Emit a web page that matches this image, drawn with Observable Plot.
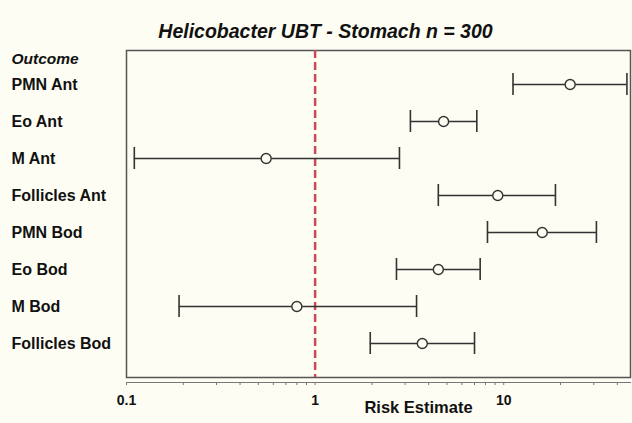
<!DOCTYPE html>
<html>
<head>
<meta charset="utf-8">
<script src="https://cdn.jsdelivr.net/npm/d3@7"></script>
<script src="https://cdn.jsdelivr.net/npm/@observablehq/plot@0.6"></script>
<style>
  html, body { margin: 0; padding: 0; background: #fdfdf3; }
  #chart svg { display: block; }
</style>
</head>
<body>
<div id="chart"></div>
<script>
const titleText = "Helicobacter UBT - Stomach n = 300";
const yTitle = "Outcome";
const xTitle = "Risk Estimate";
const outcomes = ["PMN Ant", "Eo Ant", "M Ant", "Follicles Ant", "PMN Bod", "Eo Bod", "M Bod", "Follicles Bod"];
const estimates = [22.5, 4.8, 0.55, 9.3, 16.0, 4.5, 0.8, 3.7];
const lower = [11.2, 3.2, 0.11, 4.5, 8.2, 2.7, 0.19, 1.96];
const upper = [45, 7.2, 2.8, 18.8, 31, 7.5, 3.45, 7.0];
const tickValues = [0.1, 0.2, 0.3, 0.4, 0.5, 0.6, 0.7, 0.8, 0.9, 1, 2, 3, 4, 5, 6, 7, 8, 9, 10, 20, 30, 40];
const tickLabels = [0.1, 1, 10];
const referenceValue = [1];

const rows = outcomes.map((o, i) => ({outcome: o, est: estimates[i], lo: lower[i], hi: upper[i]}));
const bg = "#fdfdf3";
const font = "Liberation Sans, Arial, Helvetica, sans-serif";

const chart = Plot.plot({
  width: 632,
  height: 423,
  marginLeft: 126,
  marginRight: 2,
  marginTop: 50,
  marginBottom: 46,
  style: {background: bg, fontFamily: font, color: "#111"},
  x: {type: "log", domain: [0.1, 47]},
  y: {type: "band", domain: outcomes, paddingInner: 0.4, paddingOuter: 0.54, axis: null},
  marks: [
    Plot.frame({stroke: "#555", strokeWidth: 1.5}),
    Plot.ruleX(referenceValue, {stroke: "#c64c58", strokeWidth: 2.5, strokeDasharray: "8,4"}),
    Plot.ruleY(rows, {y: "outcome", x1: "lo", x2: "hi", stroke: "#333", strokeWidth: 1.4}),
    Plot.tickX(rows, {y: "outcome", x: "lo", stroke: "#333", strokeWidth: 1.6}),
    Plot.tickX(rows, {y: "outcome", x: "hi", stroke: "#333", strokeWidth: 1.6}),
    Plot.dot(rows, {x: "est", y: "outcome", r: 5, stroke: "#333", fill: bg, strokeWidth: 1.4}),
    Plot.text(rows, {y: "outcome", text: "outcome", frameAnchor: "left", dx: -115, textAnchor: "start", fontWeight: "bold", fontSize: 16, fill: "#111"}),
    Plot.frame({anchor: "bottom", dy: 5, stroke: "#777", strokeWidth: 1}),
    Plot.axisX({
      ticks: tickValues,
      tickSize: 3,
      tickPadding: 10,
      dy: 5,
      stroke: "#777",
      tickFormat: d => tickLabels.includes(d) ? String(d) : "",
      label: null,
      fontSize: 14,
      fontWeight: "bold",
      fill: "#111"
    }),
    Plot.text([titleText], {frameAnchor: "top-left", dx: 199, dy: -26, textAnchor: "middle", fontSize: 19.5, fontWeight: "bold", fontStyle: "italic", fill: "#111"}),
    Plot.text([yTitle], {frameAnchor: "top-left", dx: -115, dy: 2, textAnchor: "start", fontSize: 15.5, fontWeight: "bold", fontStyle: "italic", fill: "#111"}),
    Plot.text([xTitle], {frameAnchor: "bottom-left", dx: 292, dy: 35, textAnchor: "middle", fontSize: 16.5, fontWeight: "bold", fill: "#111"})
  ]
});
document.getElementById("chart").appendChild(chart);
</script>
</body>
</html>
